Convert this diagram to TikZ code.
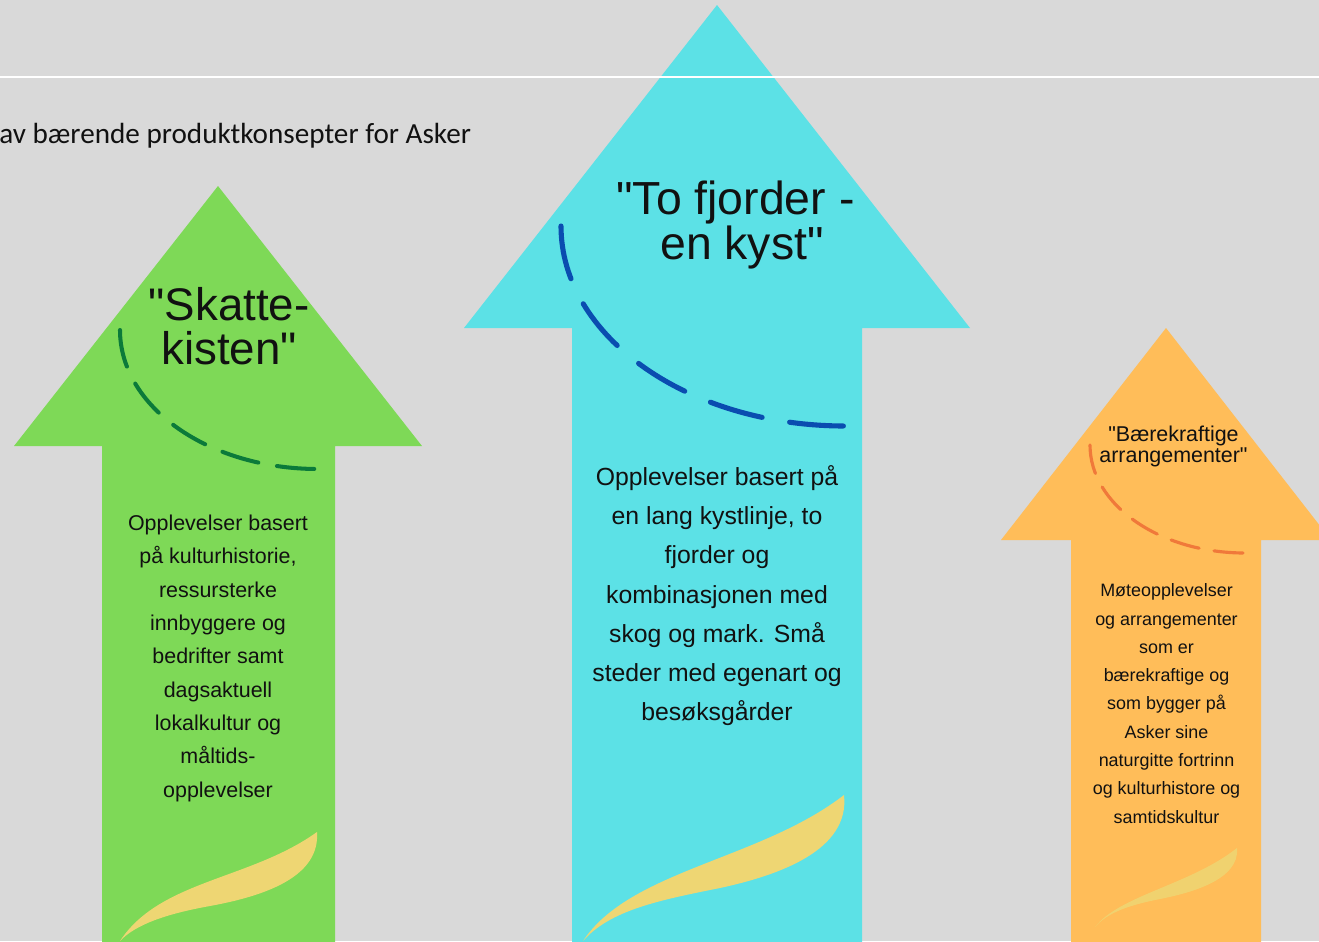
\documentclass[tikz,border=0pt]{standalone}
\usepackage{fontspec}
\setmainfont{Liberation Sans}[Ligatures=TeXOff]
\newfontfamily\calibfont{Carlito}
\definecolor{bg}{HTML}{D9D9D9}
\definecolor{agreen}{HTML}{7ED957}
\definecolor{acyan}{HTML}{5CE1E6}
\definecolor{aorange}{HTML}{FFBD59}
\definecolor{swoosh}{HTML}{EED673}
\definecolor{dgreen}{HTML}{0B7A3A}
\definecolor{dblue}{HTML}{0A4DB0}
\definecolor{dorange}{HTML}{F0793A}
\definecolor{ink}{HTML}{111111}
\begin{document}
\begin{tikzpicture}[x=0.02cm,y=-0.02cm,
  txt/.style={inner sep=0pt,align=center,anchor=base,text=ink},
  arcline/.style={line cap=round,fill=none},
  swooshfill/.style={fill=swoosh,draw=none}]
\useasboundingbox (0,0) rectangle (1319,941);
\clip (0,0) rectangle (1319,941);
\fill[bg] (0,0) rectangle (1319,941);

% arrows
\fill[agreen] (218,186) -- (422,446) -- (335,446) -- (335,960) -- (102,960) -- (102,446) -- (14,446) -- cycle;
\fill[acyan] (717,5) -- (970,328) -- (862,328) -- (862,960) -- (572,960) -- (572,328) -- (464,328) -- cycle;
\fill[aorange] (1166,328) -- (1331,540) -- (1261,540) -- (1261,960) -- (1071,960) -- (1071,540) -- (1001,540) -- cycle;

% white rule
\draw[white,line width=1.7*0.569pt] (0,76.7) -- (1319,76.7);

% title
\node[inner sep=0pt,anchor=base west,text=ink,font=\calibfont\fontsize{16.6}{18}\selectfont] (heading) at (-1,143) {av bærende produktkonsepter for Asker};

% dashed arcs
\draw[arcline,dgreen,line width=2.3pt,dash pattern=on 21.3pt off 10.8pt]
  (120,330) .. controls (120,406.8) and (208.6,469) .. (318,469);
\draw[arcline,dblue,line width=2.9pt,dash pattern=on 30.7pt off 15.9pt]
  (561,226) .. controls (561,336.5) and (688.1,426) .. (845,426);
\draw[arcline,dorange,line width=1.8pt,dash pattern=on 16.6pt off 8.6pt]
  (1090,445) .. controls (1090,504.6) and (1159.4,553) .. (1245,553);

% swooshes
\path[swooshfill] (120,941) .. controls (160,880) and (250,880) .. (317,832)
  .. controls (320,875) and (270,895) .. (210,906)
  .. controls (165,914) and (135,925) .. (120,941) -- cycle;
\path[swooshfill] (583,941) .. controls (630,870) and (760,860) .. (844,795)
  .. controls (850,850) and (780,875) .. (720,888)
  .. controls (660,900) and (610,910) .. (583,941) -- cycle;
\path[swooshfill,fill opacity=0.85] (1095,927) .. controls (1120,895) and (1190,885) .. (1237,848)
  .. controls (1240,880) and (1190,893) .. (1160,899)
  .. controls (1130,905) and (1108,912) .. (1095,927) -- cycle;

% arrow titles (node anchor = baseline of the last line)
\node[txt,font=\fontsize{26}{24.5}\selectfont] (t1) at (229,364) {"Skatte-\\kisten"};
\node[txt,font=\fontsize{26.4}{24}\selectfont] (t2) at (742,259) {"To fjorder -\kern0.278em\\en kyst"};
\node[txt,font=\fontsize{12.2}{11.4}\selectfont] (t3) at (1173.5,462) {"Bærekraftige\\arrangementer"};

% arrow bodies
\node[txt,font=\fontsize{12.2}{18.97}\selectfont] (b1) at (218,797)
  {Opplevelser basert\\på kulturhistorie,\\ressursterke\\innbyggere og\\bedrifter samt\\dagsaktuell\\lokalkultur og\\måltids-\\opplevelser};
\node[txt,font=\fontsize{14.1}{22.2}\selectfont] (b2) at (717,720)
  {Opplevelser basert på\\en lang kystlinje, to\\fjorder og\\kombinasjonen med\\skog og mark. Små\\steder med egenart og\\besøksgårder};
\node[txt,font=\fontsize{10.2}{16.1}\selectfont] (b3) at (1166.5,823)
  {Møteopplevelser\\og arrangementer\\som er\\bærekraftige og\\som bygger på\\Asker sine\\naturgitte fortrinn\\og kulturhistore og\\samtidskultur};
\end{tikzpicture}
\end{document}
